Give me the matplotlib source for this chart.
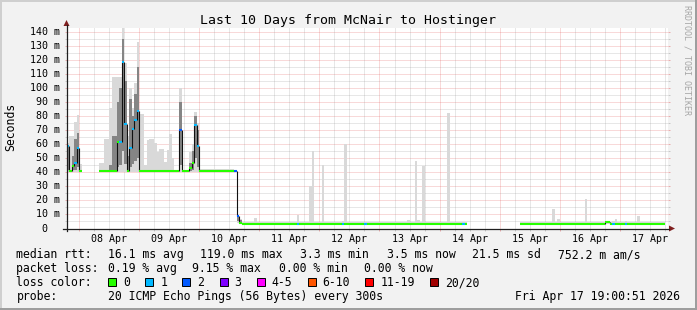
import numpy as np
import matplotlib
matplotlib.use("Agg")
import matplotlib.pyplot as plt
from matplotlib.patches import Rectangle, Polygon
from matplotlib.lines import Line2D
from matplotlib.transforms import blended_transform_factory

plt.rcParams['lines.scale_dashes'] = False
MONO = 'DejaVu Sans Mono'

# ---------------- data ----------------
title = "Last 10 Days from McNair to Hostinger"
day_labels = ["08 Apr", "09 Apr", "10 Apr", "11 Apr", "12 Apr",
              "13 Apr", "14 Apr", "15 Apr", "16 Apr", "17 Apr"]
first_midnight_h = 4.986          # hours from chart start (Apr 7 19:00:51) to Apr 8 00:00
span_h = 240                      # 10 days
y_ticks = [0, 10, 20, 30, 40, 50, 60, 70, 80, 90, 100, 110, 120, 130, 140]
y_tick_labels = ["0", "10 m", "20 m", "30 m", "40 m", "50 m", "60 m", "70 m",
                 "80 m", "90 m", "100 m", "110 m", "120 m", "130 m", "140 m"]

nan = float('nan')
# segments: start hour (from chart start), median rtt (ms), loss class,
# smoke outer range (lo..hi) and dense inner range (qlo..qhi)
seg_start = [0, 1, 2, 3, 4, 5, 6, 13, 15, 17, 18, 20, 21, 22, 23, 24, 25, 26, 27, 28,
             29, 31, 32, 33, 35, 36, 37, 39, 40, 41, 42, 43, 45, 46, 49, 50, 51, 52, 53, 67,
             68, 69,
             70, 75, 76, 92, 93, 97, 98, 99, 102, 103, 110, 111, 112, 119, 120, 136, 137, 139,
             140, 141, 142, 143, 152, 153, 158, 159, 160, 181, 194, 195, 196, 197, 207, 208, 215, 217,
             218, 219, 220, 223, 224, 228, 229]
data_end = 239
seg_med = [58.8, 41, 44.5, 46.7, 57.4, 41, nan, 41, 41, 41, 41, 61.7, 61.7, 119, 74.5, 41, 57.5, 71, 77.5, 83.6,
           41, 41, 41, 41, 41, 41, 41, 41, 41, 41, 41, 41, 70, 41, 43, 46.6, 73.6, 58.8, 41, 41,
           8.6, 3.8,
           3.5, 3.5, 3.5, 3.5, 3.5, 3.5, 3.5, 3.5, 3.5, 3.5, 3.5, 3.5, 3.5, 3.5, 3.5, 3.5, 3.5, 3.5,
           3.5, 3.5, 3.5, 3.5, 3.5, 3.5, 3.5, 3.5, nan, 3.5, 3.5, 3.5, 3.5, 3.5, 3.5, 3.5, 4.5, 3.5,
           3.5, 3.5, 3.5, 3.5, 3.5, 3.5, 3.5]
seg_loss = [1, 0, 0, 1, 1, 0, 0, 0, 0, 0, 0, 0, 1, 1, 1, 0, 1, 1, 1, 1,
            0, 0, 0, 0, 0, 0, 0, 0, 0, 0, 0, 0, 2, 0, 0, 0, 1, 1, 0, 2,
            2, 0,
            0, 0, 0, 1, 0, 0, 0, 0, 0, 0, 1, 0, 0, 1, 0, 0, 0, 0,
            0, 0, 0, 0, 0, 0, 1, 0, 0, 0, 0, 0, 0, 0, 0, 0, 0, 0,
            1, 0, 0, 1, 0, 0, 0]
seg_lo = [40.5, 40.5, 40.5, 40.5, 40.5, 40.5, nan, 40.5, 40.5, 40.5, 40.5, 40.5, 40.5, 40.5, 40.5, 40.5, 40.5, 40.5, 40.5, 40.5,
          40.5, 40.5, 40.5, 40.5, 40.5, 40.5, 40.5, 40.5, 40.5, 40.5, 40.5, 40.5, 40.5, 40.5, 40.5, 40.5, 40.5, 40.5, 40.5, 40.5,
          4, 3,
          3, 3, 3, 3, 3, 3, 3, 3, 3, 3, 3, 3, 3, 3, 3, 3, 3, 3,
          3, 3, 3, 3, 3, 3, 3, 3, nan, 3, 3, 3, 3, 3, 3, 3, 3, 3,
          3, 3, 3, 3, 3, 3, 3]
seg_hi = [61, 66, 66, 76, 81, 46, nan, 47, 64, 86, 108, 108, 108, 143, 118, 66, 100, 86, 104, 133,
          81.6, 45, 63, 64, 61, 54.5, 57, 47.5, 56, 67.7, 50, 42, 100, 42, 54.5, 60, 83, 75, 42.5, 42,
          10, 7,
          4.8, 7.3, 4.8, 9.3, 4.8, 30, 55, 4.8, 45, 4.8, 5, 60.5, 4.8, 4.8, 4.8, 6, 4.8, 48,
          6, 4.8, 44.5, 4.8, 82.6, 4.8, 4.8, 4.8, nan, 4.8, 13.6, 4.8, 7, 4.8, 21, 4.8, 5.5, 4.8,
          5, 7, 4.8, 5, 4.8, 8.6, 4.8]
seg_qlo = [42, 41, 42, 42, 44, 41, nan, 41, 41, 41, 42, 44, 45, 55, 46, 41, 44, 46, 48, 50,
           41, 41, 41, 41, 41, 41, 41, 41, 41, 41, 41, 41, 45, 41, 41, 42, 50, 44, 41, 41,
           5, 3.2,
           3.5, 3.5, 3.5, 3.5, 3.5, 3.5, 3.5, 3.5, 3.5, 3.5, 3.5, 3.5, 3.5, 3.5, 3.5, 3.5, 3.5, 3.5,
           3.5, 3.5, 3.5, 3.5, 3.5, 3.5, 3.5, 3.5, nan, 3.5, 3.5, 3.5, 3.5, 3.5, 3.5, 3.5, 3.5, 3.5,
           3.5, 3.5, 3.5, 3.5, 3.5, 3.5, 3.5]
seg_qhi = [59, 41, 52, 64, 68, 41, nan, 41, 41, 45, 66, 90, 100, 135, 105, 52, 92, 80, 96, 115,
           41, 41, 41, 41, 41, 41, 41, 41, 41, 41, 41, 41, 90, 41, 47, 55, 80, 70, 41, 41,
           9.5, 6,
           3.5, 3.5, 3.5, 3.5, 3.5, 3.5, 3.5, 3.5, 3.5, 3.5, 3.5, 3.5, 3.5, 3.5, 3.5, 3.5, 3.5, 3.5,
           3.5, 3.5, 3.5, 3.5, 3.5, 3.5, 3.5, 3.5, nan, 3.5, 3.5, 3.5, 3.5, 3.5, 3.5, 3.5, 3.5, 3.5,
           3.5, 3.5, 3.5, 3.5, 3.5, 3.5, 3.5]

loss_colors = ['#26ff00', '#00b8ff', '#0059ff', '#7e00ff', '#ff00ff', '#ff5500', '#ff0000', '#a10000']
loss_labels = ['0', '1', '2', '3', '4-5', '6-10', '11-19', '20/20']

stats_rtt = ["16.1 ms avg", "119.0 ms max", "3.3 ms min", "3.5 ms now", "21.5 ms sd", "752.2 m am/s"]
stats_loss = ["0.19 % avg", "9.15 % max", "0.00 % min", "0.00 % now"]
probe_text = "20 ICMP Echo Pings (56 Bytes) every 300s"
stamp_text = "Fri Apr 17 19:00:51 2026"

# ---------------- layout (pixels) ----------------
W, H, DPI = 697, 310, 100
L, R, T, B = 66.5, 667.5, 27.5, 228.5
YMAX = 143.3

def fx(x):
    return x / W

def fy(y):
    return 1 - y / H

fig = plt.figure(figsize=(W / DPI, H / DPI), dpi=DPI, facecolor='#f2f2f2')
ax = fig.add_axes([fx(L), fy(B), (R - L) / W, (B - T) / H])
ax.set_facecolor('white')
ax.set_xlim(0, span_h)
ax.set_ylim(0, YMAX)
for s in ax.spines.values():
    s.set_visible(False)

GRID_C = (0.56, 0.56, 0.56, 0.5)
MGRID_C = (0.87, 0.31, 0.31, 0.5)
dash = (0, (0.72, 0.72))

midnights = [first_midnight_h + 24 * k for k in range(10)]
six_h = [first_midnight_h + 6 * k for k in range(40) if first_midnight_h + 6 * k < span_h and k % 4 != 0]
for v in range(5, 141, 5):
    c = MGRID_C if v % 10 == 0 else GRID_C
    ax.axhline(v, color=c, lw=0.6, linestyle=dash, zorder=0.5)
for h in six_h:
    ax.axvline(h, color=GRID_C, lw=0.6, linestyle=dash, zorder=0.5)
for h in midnights:
    ax.axvline(h, color=MGRID_C, lw=0.6, linestyle=dash, zorder=0.5)

ax.set_xticks(midnights)
ax.set_xticks(six_h, minor=True)
ax.set_yticks([v for v in y_ticks if v > 0])
ax.set_yticks([v for v in range(5, 141, 10)], minor=True)
ax.tick_params(which='major', length=1.6, width=0.6, color=MGRID_C, direction='out',
               left=True, right=True, bottom=True, labelleft=False, labelbottom=False)
ax.tick_params(which='minor', length=1.6, width=0.6, color=GRID_C, direction='out',
               left=True, right=True, bottom=True, labelleft=False, labelbottom=False)

# ---------------- smoke + median ----------------
starts = np.array(seg_start, float)
ends = np.append(starts[1:], data_end)
widths = ends - starts
med = np.array(seg_med, float)
lo = np.array(seg_lo, float)
hi = np.array(seg_hi, float)
qlo = np.array(seg_qlo, float)
qhi = np.array(seg_qhi, float)
loss = np.array(seg_loss)
ok = ~np.isnan(med)

ax.bar(starts[ok], (hi - lo)[ok], bottom=lo[ok], width=widths[ok], align='edge',
       color='#d9d9d9', linewidth=0, antialiased=False, zorder=1)
ax.bar(starts[ok], (qhi - qlo)[ok], bottom=qlo[ok], width=widths[ok], align='edge',
       color='#858585', linewidth=0, antialiased=False, zorder=1.5)

for i in range(len(med) - 1):
    if ok[i] and ok[i + 1] and med[i] != med[i + 1]:
        ax.vlines(ends[i], min(med[i], med[i + 1]), max(med[i], med[i + 1]),
                  colors='#111111', linewidth=0.8, zorder=2)

hl = ax.hlines(med[ok], starts[ok], ends[ok], colors=[loss_colors[k] for k in loss[ok]],
               linewidth=1.5, zorder=3)
hl.set_capstyle('butt')

# ---------------- axes, arrows ----------------
AX_C = '#1f1f1f'
ARROW_C = '#801f1f'
fig.add_artist(Line2D([fx(62.5), fx(669)], [fy(B), fy(B)], color=AX_C, lw=0.9))
fig.add_artist(Line2D([fx(L), fx(L)], [fy(B + 2.5), fy(25)], color=AX_C, lw=0.9))
fig.add_artist(Polygon([(fx(669), fy(B - 3)), (fx(669), fy(B + 3)), (fx(675), fy(B))],
                       closed=True, color=ARROW_C, lw=0))
fig.add_artist(Polygon([(fx(L - 3), fy(26)), (fx(L + 3), fy(26)), (fx(L), fy(20))],
                       closed=True, color=ARROW_C, lw=0))

# ---------------- texts ----------------
fig.text(fx(348), fy(24), title, ha='center', va='baseline', fontsize=9.5, family=MONO)

ytr = blended_transform_factory(fig.transFigure, ax.transData)
for v, lab in zip(y_ticks, y_tick_labels):
    xr = 47.5 if lab == "0" else 60
    ax.text(fx(xr), v, lab, transform=ytr, ha='right', va='center', fontsize=7.2, family=MONO)

xtr = blended_transform_factory(ax.transData, fig.transFigure)
for k, lab in enumerate(day_labels):
    ax.text(midnights[k] + 12, fy(242), lab, transform=xtr, ha='center', va='baseline',
            fontsize=7.2, family=MONO)

fig.text(fx(11), fy(127), "Seconds", rotation=90, ha='center', va='center', fontsize=8.3, family=MONO)
fig.text(fx(687.5), fy(60), "RRDTOOL / TOBI OETIKER", rotation=270, ha='center', va='center',
         fontsize=6, family=MONO, color='#a6a6a6')

LF = 8.3
rows = [258, 272, 286, 300]
fig.text(fx(16.4), fy(rows[0]), "median rtt:", ha='left', va='baseline', fontsize=LF, family=MONO)
for x, s in zip([107.6, 200, 300, 386.7, 472, 557.8], stats_rtt):
    fig.text(fx(x), fy(rows[0]), s, ha='left', va='baseline', fontsize=LF, family=MONO)
fig.text(fx(16.4), fy(rows[1]), "packet loss:", ha='left', va='baseline', fontsize=LF, family=MONO)
for x, s in zip([107.6, 192.4, 279, 364.4], stats_loss):
    fig.text(fx(x), fy(rows[1]), s, ha='left', va='baseline', fontsize=LF, family=MONO)
fig.text(fx(16.4), fy(rows[2]), "loss color:", ha='left', va='baseline', fontsize=LF, family=MONO)
box_x = [108, 145.3, 182.2, 219.6, 256.9, 307.6, 365.3, 430.2]
for bx, c, lab in zip(box_x, loss_colors, loss_labels):
    fig.add_artist(Rectangle((fx(bx), fy(rows[2])), 8 / W, 8 / H, transform=fig.transFigure,
                             facecolor=c, edgecolor='black', lw=0.7))
    fig.text(fx(bx + 15), fy(rows[2]), lab, ha='left', va='baseline', fontsize=LF, family=MONO)
fig.text(fx(16.4), fy(rows[3]), "probe:", ha='left', va='baseline', fontsize=LF, family=MONO)
fig.text(fx(107.6), fy(rows[3]), probe_text, ha='left', va='baseline', fontsize=LF, family=MONO)
fig.text(fx(680), fy(rows[3]), stamp_text, ha='right', va='baseline', fontsize=LF, family=MONO)

# ---------------- frame shading ----------------
fig.add_artist(Line2D([0, 1], [fy(1), fy(1)], color='#cfcfcf', lw=1.44))
fig.add_artist(Line2D([fx(1), fx(1)], [0, 1], color='#cfcfcf', lw=1.44))
fig.add_artist(Line2D([0, 1], [fy(H - 1), fy(H - 1)], color='#9e9e9e', lw=1.44))
fig.add_artist(Line2D([fx(W - 1), fx(W - 1)], [0, 1], color='#9e9e9e', lw=1.44))

fig.savefig("out.png", dpi=DPI, facecolor=fig.get_facecolor())
